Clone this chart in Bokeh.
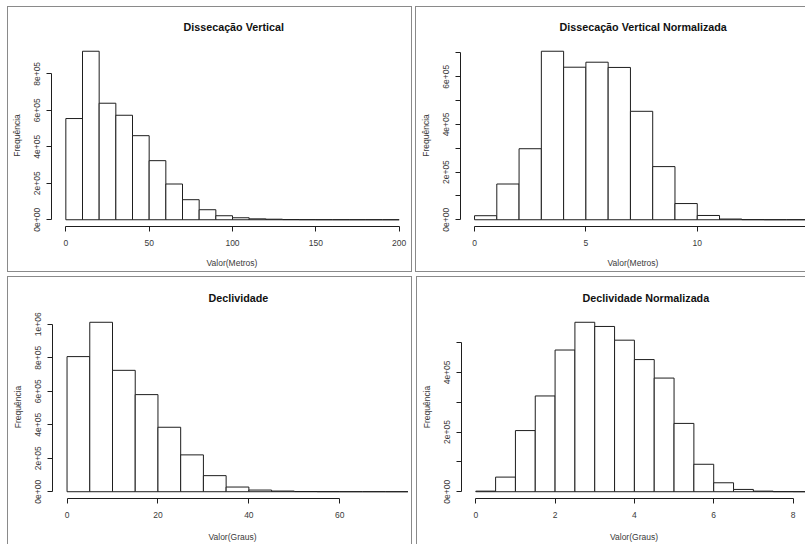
from bokeh.plotting import figure
from bokeh.layouts import row, column
from bokeh.models import Range1d, FixedTicker
from bokeh.embed import file_html
from bokeh.resources import INLINE

# ---- data ----
dv_breaks = list(range(0, 201, 10))
dv_counts = [555000, 924000, 639000, 573000, 461000, 324000, 196000, 110000,
             55000, 22000, 11000, 5000, 3000, 1000, 500, 300, 200, 100, 100, 50]

dvn_breaks = list(range(0, 16, 1))
dvn_counts = [17000, 150000, 298000, 707000, 640000, 661000, 639000, 455000,
              223000, 68000, 18000, 3000, 500, 100, 50]

dec_breaks = list(range(0, 76, 5))
dec_counts = [807000, 1012000, 725000, 580000, 385000, 220000, 96000, 28000,
              10000, 4000, 1000, 300, 100, 50, 20]

decn_breaks = [i * 0.5 for i in range(0, 18)]
decn_counts = [2000, 49000, 205000, 321000, 475000, 568000, 554000, 508000,
               443000, 381000, 229000, 92000, 30000, 7700, 2000, 300, 100]

titles = ["Dissecação Vertical", "Dissecação Vertical Normalizada",
          "Declividade", "Declividade Normalizada"]
xlabels = ["Valor(Metros)", "Valor(Metros)", "Valor(Graus)", "Valor(Graus)"]
ylabel = "Frequência"

dv_xticks = [0, 50, 100, 150, 200]
dvn_xticks = [0, 5, 10, 15]
dec_xticks = [0, 20, 40, 60]
decn_xticks = [0, 2, 4, 6, 8]

dv_yticks = [0, 200000, 400000, 600000, 800000]
dvn_yticks = [0, 100000, 200000, 300000, 400000, 500000, 600000, 700000]
dec_yticks = [0, 200000, 400000, 600000, 800000, 1000000]
decn_yticks = [0, 100000, 200000, 300000, 400000, 500000]
dvn_ylabeled = [0, 200000, 400000, 600000]
decn_ylabeled = [0, 200000, 400000]

FONT = "Liberation Sans"
TXT = "#3a3a3a"
LN = "#1e1e1e"
BORDER = "#8a8a8a"


def sci(v):
    return "{:.0e}".format(v)


def make(breaks, counts, title, xlabel, xticks, yticks, ylabeled,
         width, height, mb_left, mb_top, mb_bottom, xr, title_offset, sides,
         xlab_standoff):
    M = max(counts)
    shadows = []
    if "l" in sides:
        shadows.append("inset 1px 0 0 0 " + BORDER)
    if "t" in sides:
        shadows.append("inset 0 1px 0 0 " + BORDER)
    if "r" in sides:
        shadows.append("inset -1px 0 0 0 " + BORDER)
    if "b" in sides:
        shadows.append("inset 0 -1px 0 0 " + BORDER)
    p = figure(width=width, height=height, output_backend="svg",
               toolbar_location=None,
               x_range=Range1d(xr[0], xr[1]),
               y_range=Range1d(-0.04 * M, 1.04 * M),
               min_border_left=mb_left, min_border_right=0,
               min_border_top=mb_top, min_border_bottom=mb_bottom,
               border_fill_color=None, background_fill_color=None,
               outline_line_color=None,
               styles={"box-shadow": ", ".join(shadows)})
    p.grid.visible = False
    p.quad(left=breaks[:-1], right=breaks[1:], top=counts, bottom=0,
           fill_color="white", line_color=LN, line_width=1)

    p.title.text = title
    p.title.align = "left"
    p.title.text_font = FONT
    p.title.text_font_size = "10.75px"
    p.title.text_font_style = "bold"
    p.title.text_color = "#111111"
    p.title.offset = title_offset
    p.title.standoff = 24

    xa = p.xaxis[0]
    xa.ticker = FixedTicker(ticks=xticks)
    xa.bounds = (xticks[0], xticks[-1])
    ya = p.yaxis[0]
    ya.ticker = FixedTicker(ticks=yticks)
    ya.bounds = (yticks[0], yticks[-1])
    ya.major_label_overrides = {t: (sci(t) if t in ylabeled else "") for t in yticks}
    ya.major_label_orientation = "vertical"
    xa.axis_label = xlabel
    ya.axis_label = ylabel
    for ax in (xa, ya):
        ax.axis_line_color = LN
        ax.major_tick_line_color = LN
        ax.major_tick_out = 5
        ax.major_tick_in = 0
        ax.minor_tick_line_color = None
        ax.major_label_text_font = FONT
        ax.major_label_text_font_size = "8.5px"
        ax.major_label_text_color = TXT
        ax.axis_label_text_font = FONT
        ax.axis_label_text_font_size = "8.5px"
        ax.axis_label_text_font_style = "normal"
        ax.axis_label_text_color = TXT
    xa.major_label_standoff = 8
    xa.axis_label_standoff = xlab_standoff
    ya.major_label_standoff = 6
    ya.axis_label_standoff = 10
    return p


p1 = make(dv_breaks, dv_counts, titles[0], xlabels[0], dv_xticks, dv_yticks,
          dv_yticks, 405, 266, 44, 37, 46, (-8.6, 208), 132, "ltrb", 9)
p2 = make(dvn_breaks, dvn_counts, titles[1], xlabels[1], dvn_xticks, dvn_yticks,
          dvn_ylabeled, 390, 266, 45, 37, 46, (-0.63, 14.86), 99, "ltb", 9)
p3 = make(dec_breaks, dec_counts, titles[2], xlabels[2], dec_xticks, dec_yticks,
          dec_yticks, 405, 268, 45, 39, 44, (-3.2, 76), 156, "ltr", 11)
p4 = make(decn_breaks, decn_counts, titles[3], xlabels[3], decn_xticks, decn_yticks,
          decn_ylabeled, 390, 268, 45, 39, 44, (-0.36, 8.34), 121, "lt", 11)

layout = column(row(p1, p2, spacing=3), row(p3, p4, spacing=4), spacing=4,
                margin=(6, 0, 0, 7))

open("out.html", "w").write(file_html(layout, INLINE))
